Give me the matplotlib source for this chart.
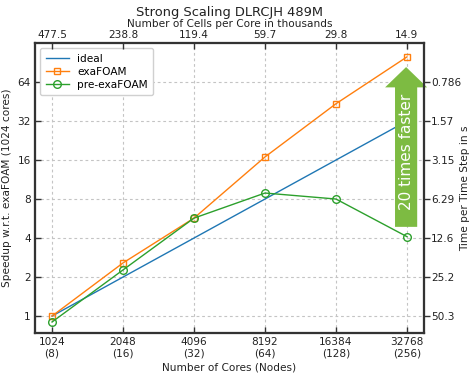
import numpy as np
import matplotlib
matplotlib.use('Agg')
import matplotlib.pyplot as plt
from matplotlib.patches import FancyArrow
from matplotlib.ticker import NullLocator

# data
cores = [1024, 2048, 4096, 8192, 16384, 32768]
nodes = [8, 16, 32, 64, 128, 256]
cells_k = ['477.5', '238.8', '119.4', '59.7', '29.8', '14.9']
ideal = [1, 2, 4, 8, 16, 32]
exafoam = [1.0, 2.57, 5.7, 16.9, 43.5, 100.0]
pre_exafoam = [0.9, 2.27, 5.7, 8.9, 8.0, 4.1]
speedup_ticks = [1, 2, 4, 8, 16, 32, 64]
time_labels = ['50.3', '25.2', '12.6', '6.29', '3.15', '1.57', '0.786']

plt.rcParams['font.family'] = 'DejaVu Sans'
plt.rcParams['font.size'] = 7.6

fig = plt.figure(figsize=(4.74, 3.76), dpi=100)
ax = fig.add_axes([35/474, 1 - 333/376, 389/474, 290/376])

spine_c = '#333333'
txt_c = '#222222'
ax.plot(cores, ideal, color='#1f77b4', lw=1.0, label='ideal')
ax.plot(cores, exafoam, color='#ff7f0e', lw=1.0, marker='s', ms=5, mfc='none', mew=1.0, label='exaFOAM')
ax.plot(cores, pre_exafoam, color='#2ca02c', lw=1.0, marker='o', ms=5.5, mfc='none', mew=1.0, label='pre-exaFOAM')

ax.set_xscale('log', base=2)
ax.set_yscale('log', base=2)
xlim = (1024 * 2**-0.24, 32768 * 2**0.24)
ylim = (0.74, 128)
ax.set_xlim(xlim)
ax.set_ylim(ylim)
ax.set_xticks(cores)
ax.set_xticklabels([f'{c}\n({n})' for c, n in zip(cores, nodes)])
ax.set_yticks(speedup_ticks)
ax.set_yticklabels([str(s) for s in speedup_ticks])
ax.xaxis.set_minor_locator(NullLocator())
ax.yaxis.set_minor_locator(NullLocator())
ax.grid(True, color='#c4c4c4', ls=(0, (2.5, 2.5)), lw=0.8)
ax.tick_params(direction='in', length=4, width=1, colors=spine_c, labelcolor=txt_c, pad=3)
ax.set_xlabel('Number of Cores (Nodes)', color=txt_c, labelpad=3)
ax.set_ylabel('Speedup w.r.t. exaFOAM (1024 cores)', color=txt_c, labelpad=4)
for s in ax.spines.values():
    s.set_color(spine_c)
    s.set_linewidth(1.5)

leg = ax.legend(loc='upper left', fancybox=True, framealpha=1, edgecolor='#d0d0d0',
                handlelength=2.2, borderpad=0.5, labelspacing=0.3)

# top axis: cells per core
axt = ax.twiny()
axt.set_xscale('log', base=2)
axt.set_xlim(xlim)
axt.set_xticks(cores)
axt.set_xticklabels(cells_k)
axt.xaxis.set_minor_locator(NullLocator())
axt.tick_params(direction='in', length=4, width=1, colors=spine_c, labelcolor=txt_c, pad=2)
axt.set_xlabel('Number of Cells per Core in thousands', color=txt_c, labelpad=2)
axt.set_title('Strong Scaling DLRCJH 489M', fontsize=9.4, color=txt_c, pad=2)

# right axis: time per time step
axr = ax.twinx()
axr.set_yscale('log', base=2)
axr.set_ylim(ylim)
axr.set_yticks(speedup_ticks)
axr.set_yticklabels(time_labels)
axr.yaxis.set_minor_locator(NullLocator())
axr.tick_params(direction='out', length=4, width=1, colors=spine_c, labelcolor=txt_c, pad=1)
for a in (axt, axr):
    for s in a.spines.values():
        s.set_color(spine_c)
        s.set_linewidth(1.5)
fig.text(465/474, 0.5, 'Time per Time Step in s', rotation=90, color=txt_c,
         ha='center', va='center')

# green arrow annotation
arr = FancyArrow(0.954, 0.366, 0, 0.551, width=0.057, head_width=0.108, head_length=0.07,
                 length_includes_head=True, transform=ax.transAxes, color='#7dbb42',
                 lw=0, zorder=5, clip_on=False)
ax.add_patch(arr)
ax.text(0.954, 0.625, '20 times faster', rotation=90, color='white', fontsize=11,
        ha='center', va='center', transform=ax.transAxes, zorder=6)

fig.savefig('out.png', dpi=100)
